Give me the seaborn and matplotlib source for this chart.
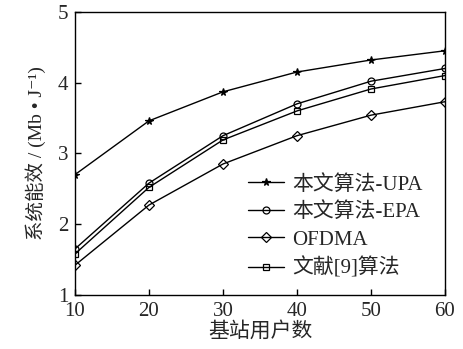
import pandas as pd
import matplotlib.pyplot as plt
import seaborn as sns

# 数据
users = [10, 20, 30, 40, 50, 60]
upa = [2.70, 3.46, 3.87, 4.15, 4.32, 4.45]
epa = [1.65, 2.58, 3.25, 3.70, 4.02, 4.20]
ofdma = [1.42, 2.27, 2.85, 3.25, 3.54, 3.73]
ref9 = [1.58, 2.52, 3.19, 3.60, 3.91, 4.10]

series = [
    ("本文算法-UPA", upa, "*", "black", 5.5),
    ("本文算法-EPA", epa, "o", "none", 5),
    ("OFDMA", ofdma, "D", "none", 5),
    ("文献[9]算法", ref9, "s", "none", 5),
]

sns.set_style("ticks")
plt.rcParams['font.family'] = ['Liberation Serif', 'Noto Sans CJK SC', 'DejaVu Serif']

fig = plt.figure(figsize=(4.63, 3.49), dpi=100)
ax = fig.add_axes([0.162, 0.155, 0.799, 0.811])

for label, vals, mk, fc, ms in series:
    df = pd.DataFrame({"users": users, "val": vals})
    sns.lineplot(data=df, x="users", y="val", ax=ax, color="black", lw=1.0,
                 marker=mk, markersize=ms,
                 markerfacecolor=fc, markeredgecolor="black",
                 markeredgewidth=0.9, label=label)

ax.set_xlim(10, 60)
ax.set_ylim(1, 5)
ax.set_xticks(users)
ax.set_yticks([1, 2, 3, 4, 5])
ax.tick_params(direction="in", length=4, labelsize=15, width=1, color="black")
ax.tick_params(axis="x", pad=5)
ax.tick_params(axis="y", pad=5)
for s in ax.spines.values():
    s.set_linewidth(1.0)
    s.set_color("black")

ax.set_xlabel("基站用户数", fontsize=15, labelpad=1)
ax.set_ylabel("系统能效 / (Mb • J⁻¹)", fontsize=14, labelpad=8)

leg = ax.legend(loc="lower right", frameon=False, fontsize=15,
                handlelength=1.7, handletextpad=0.4, labelspacing=0.38,
                bbox_to_anchor=(0.99, -0.01))

fig.savefig("out.png", dpi=100)
